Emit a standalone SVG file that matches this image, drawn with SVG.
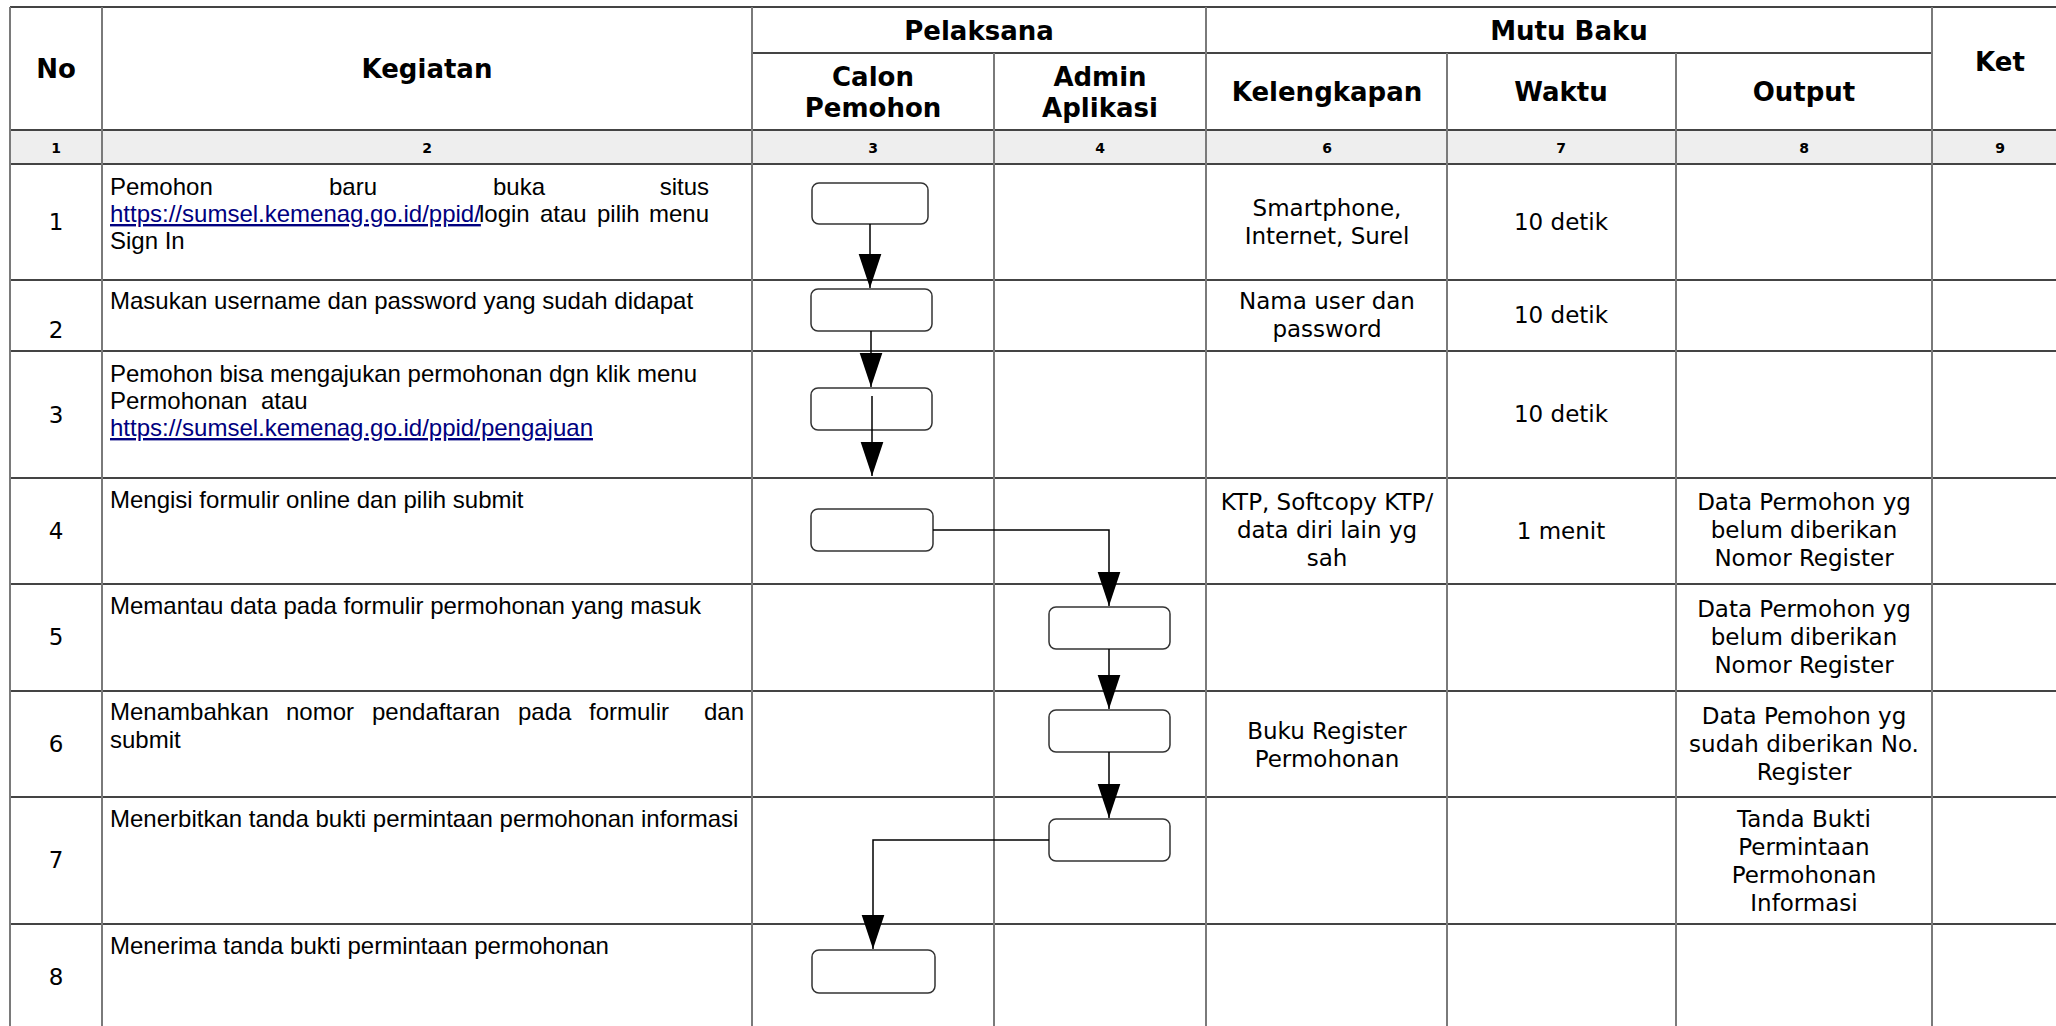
<svg xmlns="http://www.w3.org/2000/svg" width="2056" height="1026" viewBox="0 0 2056 1026">
<style>
.hl{stroke:#444;stroke-width:2;fill:none}
.vl{stroke:#7a7a7a;stroke-width:2;fill:none}
.hd{font-family:"DejaVu Sans",sans-serif;font-weight:bold;font-size:26px;fill:#000;text-anchor:middle}
.num{font-family:"DejaVu Sans",sans-serif;font-weight:bold;font-size:14px;fill:#000;text-anchor:middle}
.no{font-family:"DejaVu Sans",sans-serif;font-size:23px;fill:#000;text-anchor:middle}
.rc{font-family:"DejaVu Sans",sans-serif;font-size:23px;fill:#000;text-anchor:middle}
.kg{font-family:"Liberation Sans",Arial,sans-serif;font-size:24px;fill:#000}
.lk{fill:#000080;text-decoration:underline}
.box{fill:#fff;stroke:#333;stroke-width:1.5}
.con{stroke:#000;stroke-width:1.5;fill:none;marker-end:url(#arr)}
</style>
<defs>
<marker id="arr" markerUnits="userSpaceOnUse" markerWidth="34" markerHeight="24" viewBox="0 0 33 22" refX="33" refY="11" orient="auto">
<path d="M0,0 L33,11 L0,22 Z" fill="#000"/>
</marker>
</defs>
<rect x="0" y="0" width="2056" height="1026" fill="#fff"/>
<g id="table">
<rect x="10" y="130" width="2046" height="34" fill="#eeeeee"/>
<path class="hl" d="M10,7H2056 M752,53H1932 M10,130H2056 M10,164H2056 M10,280H2056 M10,351H2056 M10,478H2056 M10,584H2056 M10,691H2056 M10,797H2056 M10,924H2056"/>
<path class="vl" d="M10,7V1026 M102,7V1026 M752,7V1026 M994,53V1026 M1206,7V1026 M1447,53V1026 M1676,53V1026 M1932,7V1026"/>
</g>
<g id="header">
<text class="hd" x="56" y="78">No</text>
<text class="hd" x="427" y="78">Kegiatan</text>
<text class="hd" x="979" y="40">Pelaksana</text>
<text class="hd" x="873" y="86">Calon</text>
<text class="hd" x="873" y="117">Pemohon</text>
<text class="hd" x="1100" y="86">Admin</text>
<text class="hd" x="1100" y="117">Aplikasi</text>
<text class="hd" x="1569" y="40">Mutu Baku</text>
<text class="hd" x="1327" y="101">Kelengkapan</text>
<text class="hd" x="1561" y="101">Waktu</text>
<text class="hd" x="1804" y="101">Output</text>
<text class="hd" x="2000" y="71">Ket</text>
<text class="num" x="56" y="153">1</text>
<text class="num" x="427" y="153">2</text>
<text class="num" x="873" y="153">3</text>
<text class="num" x="1100" y="153">4</text>
<text class="num" x="1327" y="153">6</text>
<text class="num" x="1561" y="153">7</text>
<text class="num" x="1804" y="153">8</text>
<text class="num" x="2000" y="153">9</text>
</g>
<g id="row1">
<text class="no" x="56" y="230">1</text>
<text class="kg" y="195"><tspan x="110">Pemohon</tspan><tspan x="329">baru</tspan><tspan x="493">buka</tspan><tspan x="709" text-anchor="end">situs</tspan></text>
<text class="kg" y="222"><tspan x="110" class="lk">https://sumsel.kemenag.go.id/ppid/</tspan><tspan x="479">login</tspan><tspan x="540">atau</tspan><tspan x="597">pilih</tspan><tspan x="709" text-anchor="end">menu</tspan></text>
<text class="kg" x="110" y="249">Sign In</text>
<text class="rc" x="1327" y="216">Smartphone,</text>
<text class="rc" x="1327" y="244">Internet, Surel</text>
<text class="rc" x="1561" y="230">10 detik</text>
</g>
<g id="row2">
<text class="no" x="56" y="338">2</text>
<text class="kg" x="110" y="309">Masukan username dan password yang sudah didapat</text>
<text class="rc" x="1327" y="309">Nama user dan</text>
<text class="rc" x="1327" y="337">password</text>
<text class="rc" x="1561" y="323">10 detik</text>
</g>
<g id="row3">
<text class="no" x="56" y="423">3</text>
<text class="kg" x="110" y="382">Pemohon bisa mengajukan permohonan dgn klik menu</text>
<text class="kg" y="409"><tspan x="110">Permohonan</tspan><tspan x="261">atau</tspan></text>
<text class="kg lk" x="110" y="436">https://sumsel.kemenag.go.id/ppid/pengajuan</text>
<text class="rc" x="1561" y="422">10 detik</text>
</g>
<g id="row4">
<text class="no" x="56" y="539">4</text>
<text class="kg" x="110" y="508">Mengisi formulir online dan pilih submit</text>
<text class="rc" x="1327" y="510">KTP, Softcopy KTP/</text>
<text class="rc" x="1327" y="538">data diri lain yg</text>
<text class="rc" x="1327" y="566">sah</text>
<text class="rc" x="1561" y="539">1 menit</text>
<text class="rc" x="1804" y="510">Data Permohon yg</text>
<text class="rc" x="1804" y="538">belum diberikan</text>
<text class="rc" x="1804" y="566">Nomor Register</text>
</g>
<g id="row5">
<text class="no" x="56" y="645">5</text>
<text class="kg" x="110" y="614">Memantau data pada formulir permohonan yang masuk</text>
<text class="rc" x="1804" y="617">Data Permohon yg</text>
<text class="rc" x="1804" y="645">belum diberikan</text>
<text class="rc" x="1804" y="673">Nomor Register</text>
</g>
<g id="row6">
<text class="no" x="56" y="752">6</text>
<text class="kg" y="720"><tspan x="110">Menambahkan</tspan><tspan x="286">nomor</tspan><tspan x="372">pendaftaran</tspan><tspan x="518">pada</tspan><tspan x="589">formulir</tspan><tspan x="744" text-anchor="end">dan</tspan></text>
<text class="kg" x="110" y="748">submit</text>
<text class="rc" x="1327" y="739">Buku Register</text>
<text class="rc" x="1327" y="767">Permohonan</text>
<text class="rc" x="1804" y="724">Data Pemohon yg</text>
<text class="rc" x="1804" y="752">sudah diberikan No.</text>
<text class="rc" x="1804" y="780">Register</text>
</g>
<g id="row7">
<text class="no" x="56" y="868">7</text>
<text class="kg" x="110" y="827">Menerbitkan tanda bukti permintaan permohonan informasi</text>
<text class="rc" x="1804" y="827">Tanda Bukti</text>
<text class="rc" x="1804" y="855">Permintaan</text>
<text class="rc" x="1804" y="883">Permohonan</text>
<text class="rc" x="1804" y="911">Informasi</text>
</g>
<g id="row8">
<text class="no" x="56" y="985">8</text>
<text class="kg" x="110" y="954">Menerima tanda bukti permintaan permohonan</text>
</g>
<g id="node1"><rect class="box" x="812" y="183" width="116" height="41" rx="7"/></g>
<g id="node2"><rect class="box" x="811" y="289" width="121" height="42" rx="7"/></g>
<g id="node3"><rect class="box" x="811" y="388" width="121" height="42" rx="7"/></g>
<g id="node4"><rect class="box" x="811" y="509" width="122" height="42" rx="7"/></g>
<g id="node5"><rect class="box" x="1049" y="607" width="121" height="42" rx="7"/></g>
<g id="node6"><rect class="box" x="1049" y="710" width="121" height="42" rx="7"/></g>
<g id="node7"><rect class="box" x="1049" y="819" width="121" height="42" rx="7"/></g>
<g id="node8"><rect class="box" x="812" y="950" width="123" height="43" rx="7"/></g>
<g id="connectors">
<path class="con" d="M870,224V288"/>
<path class="con" d="M871,331V387"/>
<path class="con" d="M872,396V476"/>
<path class="con" d="M933,530H1109V606"/>
<path class="con" d="M1109,649V709"/>
<path class="con" d="M1109,752V818"/>
<path class="con" d="M1049,840H873V949"/>
</g>
</svg>
